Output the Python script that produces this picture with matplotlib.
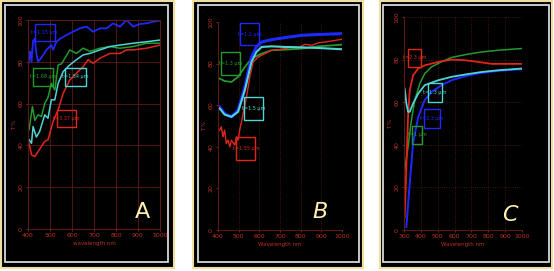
import matplotlib
matplotlib.use('Agg')
import matplotlib.pyplot as plt
from matplotlib.patches import Rectangle

W, H = 554, 271

# ---- panel A data (wavelength nm, T %) ----
a_blue_x = [400, 410, 416, 423, 431, 438, 446, 461, 484, 506, 514, 529, 545, 575, 605, 635, 666, 696, 727, 757, 787, 818, 848, 878, 909, 939, 970, 1000]
a_blue_y = [77.7, 85, 80, 90, 91, 84, 80, 82, 85.7, 88, 85.7, 89.6, 91, 92.8, 94.4, 96, 96.8, 94.4, 96, 96, 98.4, 96.8, 100, 96.8, 98.1, 98.4, 99.2, 99.7]
a_green_x = [405, 420, 431, 446, 461, 476, 491, 506, 522, 537, 552, 575, 590, 620, 651, 681, 727, 772, 818, 878, 939, 1000]
a_green_y = [47.5, 58.6, 52, 54.6, 53.8, 60, 63, 69.7, 66.5, 78.5, 79, 83, 85.7, 84, 86.5, 85, 86.5, 87.3, 86.5, 87.3, 88.9, 88.9]
a_cyan_x = [405, 416, 423, 438, 453, 476, 491, 506, 522, 537, 560, 590, 620, 651, 681, 727, 772, 818, 878, 939, 1000]
a_cyan_y = [42.7, 41, 49, 44, 46.7, 54.6, 53, 61.8, 61.8, 69.7, 75.3, 78.5, 81, 83.3, 84, 85.7, 87.3, 88, 88.9, 89.6, 90.4]
a_red_x = [405, 416, 431, 446, 461, 476, 491, 514, 537, 560, 590, 620, 651, 673, 696, 727, 772, 818, 848, 878, 939, 1000]
a_red_y = [41, 35.5, 34.7, 37, 39.5, 41.9, 42.7, 51.4, 57, 65, 71.3, 74.5, 77.7, 81, 79.3, 81.7, 84, 84, 85.7, 85.7, 86.5, 88]

# ---- panel B data ----
b_blue_x = [408, 432, 465, 497, 530, 562, 586, 611, 659, 724, 805, 886, 1000]
b_blue_y = [59.2, 56, 54.4, 57.6, 68.8, 83.2, 88, 90.4, 91.5, 92.5, 93.6, 94, 94.4]
b_cyan_x = [408, 432, 465, 497, 530, 562, 586, 611, 659, 724, 805, 886, 1000]
b_cyan_y = [58.4, 55.5, 54.4, 56.8, 67.2, 80.8, 85.6, 88, 88.3, 88, 87.8, 87.5, 86.9]
b_green_x = [408, 432, 465, 497, 530, 562, 611, 659, 724, 805, 886, 1000]
b_green_y = [72.8, 71.6, 71.2, 73.6, 78.4, 82.4, 84.8, 86.4, 86.7, 87.2, 88.3, 89.1]
b_red_x = [408, 416, 424, 432, 440, 449, 457, 465, 481, 489, 497, 505, 522, 538, 554, 570, 595, 627, 659, 692, 724, 757, 789, 822, 854, 886, 919, 951, 1000]
b_red_y = [48, 49.6, 44.8, 48, 41.6, 43.2, 40, 43.2, 40.8, 44.8, 43.2, 48, 56, 64, 73.6, 80.8, 83.2, 84.8, 86.4, 86.7, 87.2, 88, 87.7, 89.3, 88.8, 90, 90.4, 90.9, 91.7]

# ---- panel C data ----
c_red_x = [304, 314, 324, 334, 354, 384, 423, 503, 582, 662, 741, 821, 900, 1000]
c_red_y = [6, 29.7, 53, 65.6, 72.6, 75.8, 77.3, 78.9, 80, 79.7, 78.9, 78, 78, 78]
c_green_x = [304, 324, 344, 364, 394, 423, 463, 523, 582, 662, 761, 860, 1000]
c_green_y = [28, 39, 51.6, 61, 68.8, 73.4, 76.6, 79, 81, 82.3, 83.6, 84.4, 85.2]
c_cyan_x = [304, 314, 324, 334, 354, 384, 423, 503, 582, 662, 761, 860, 1000]
c_cyan_y = [66.4, 59.4, 55.5, 55.5, 59.4, 64, 68, 70.3, 71.9, 73, 74.2, 75, 75.8]
c_blue_x = [314, 334, 354, 384, 423, 463, 523, 582, 662, 761, 860, 1000]
c_blue_y = [1.5, 21.9, 40.6, 53, 61, 64.8, 68, 70.3, 72.2, 73.8, 74.7, 75.5]

BLUE = '#1e28ff'
GREEN = '#239a2e'
CYAN = '#50d4d4'
RED = '#e0261c'
TXT = '#b8331f'
GRID = '#5a1c12'


def fr(x0, y0, x1, y1):
    return [x0 / W, 1 - y1 / H, (x1 - x0) / W, (y1 - y0) / H]


def panel_bg(fig, outer, inner):
    x0, y0, x1, y1 = outer
    fig.add_artist(Rectangle((x0 / W, 1 - y1 / H), (x1 - x0) / W, (y1 - y0) / H,
                             transform=fig.transFigure, facecolor='black',
                             edgecolor='#efe0a0', lw=1.5, zorder=-3))
    x0, y0, x1, y1 = inner
    fig.add_artist(Rectangle((x0 / W, 1 - y1 / H), (x1 - x0) / W, (y1 - y0) / H,
                             transform=fig.transFigure, facecolor='none',
                             edgecolor='#d8d8d8', lw=1.3, zorder=-2))


def style_axes(ax, xmin, xlabel, grid_style, grid_axis='both', frame=True):
    ax.set_facecolor('black')
    ax.set_xlim(xmin, 1000)
    ax.set_ylim(0, 100)
    ax.set_xticks(range(xmin, 1001, 100))
    ax.set_yticks(range(0, 101, 20))
    ax.tick_params(colors=TXT, labelsize=4.5, length=1.5, width=0.5, pad=1.5)
    for lab in ax.get_yticklabels():
        lab.set_rotation(90)
        lab.set_va('center')
    for s in ax.spines.values():
        s.set_color(GRID)
        s.set_linewidth(0.8)
    if not frame:
        ax.spines['top'].set_visible(False)
        ax.spines['right'].set_visible(False)
    ax.grid(True, axis=grid_axis, color=GRID, lw=0.6, ls=grid_style)
    ax.set_xlabel(xlabel, color=TXT, fontsize=4, labelpad=2)
    ax.set_ylabel('T %', color=TXT, fontsize=4, labelpad=1)


def box(ax, x0, x1, y0, y1, color, label):
    ax.add_patch(Rectangle((x0, y0), x1 - x0, y1 - y0, fill=False,
                           edgecolor=color, lw=1.0, zorder=5))
    ax.text((x0 + x1) / 2, (y0 + y1) / 2, label, color=color, fontsize=3.5,
            ha='center', va='center', zorder=6)


fig = plt.figure(figsize=(W / 100, H / 100), dpi=100)
fig.patch.set_facecolor('white')

panel_bg(fig, (1, 1, 174, 268), (5, 5, 168, 262))
panel_bg(fig, (193, 1, 363, 268), (198, 5, 359, 262))
panel_bg(fig, (380, 1, 552, 268), (383, 5, 549, 262))

# panel A
ax = fig.add_axes(fr(28, 20, 160, 229))
style_axes(ax, 400, 'wavelength nm', '-')
ax.plot(a_blue_x, a_blue_y, color=BLUE, lw=1.3)
ax.plot(a_green_x, a_green_y, color=GREEN, lw=1.1)
ax.plot(a_cyan_x, a_cyan_y, color=CYAN, lw=1.1)
ax.plot(a_red_x, a_red_y, color=RED, lw=1.1)
box(ax, 430, 521, 90, 98, BLUE, 't=1.15 µm')
box(ax, 423, 514, 68.5, 77, GREEN, 't=1.68 µm')
box(ax, 567, 663, 68.5, 77, CYAN, 't=1.54 µm')
box(ax, 532, 620, 48.6, 57, RED, 't=3.37 µm')
fig.text(142 / W, 1 - 212 / H, 'A', color='#fff2b0', fontsize=16, ha='center', va='center')

# panel B
ax = fig.add_axes(fr(218, 22, 342, 230))
style_axes(ax, 400, 'Wavelength nm', ':', grid_axis='x', frame=False)
ax.plot(b_green_x, b_green_y, color=GREEN, lw=1.3)
ax.plot(b_red_x, b_red_y, color=RED, lw=1.0)
ax.plot(b_blue_x, b_blue_y, color=BLUE, lw=2.2)
ax.plot(b_cyan_x, b_cyan_y, color=CYAN, lw=1.5)
box(ax, 505, 597, 88.8, 99.5, BLUE, 't=1.2 µm')
box(ax, 416, 508, 74.4, 85.6, GREEN, 't=1.3 µm')
box(ax, 526, 619, 52.8, 64, CYAN, 't=1.5 µm')
box(ax, 489, 581, 33.6, 44.8, RED, 't=1.55 µm')
fig.text(320 / W, 1 - 212 / H, 'B', color='#fff2b0', fontsize=16, ha='center',
         va='center', style='italic')

# panel C
ax = fig.add_axes(fr(404, 17, 522, 230))
style_axes(ax, 300, 'Wavelength nm', ':', frame=False)
ax.plot(c_green_x, c_green_y, color=GREEN, lw=1.1)
ax.plot(c_red_x, c_red_y, color=RED, lw=1.3)
ax.plot(c_blue_x, c_blue_y, color=BLUE, lw=1.4)
ax.plot(c_cyan_x, c_cyan_y, color=CYAN, lw=1.3)
box(ax, 324, 399, 76.6, 85, RED, 't=2.3 µm')
box(ax, 443, 527, 60, 68.8, CYAN, 't=1.3 µm')
box(ax, 419, 513, 47.7, 57, BLUE, 't=2.3 µm')
box(ax, 348, 407, 40.6, 49, GREEN, 't=1 µm')
fig.text(510 / W, 1 - 215 / H, 'C', color='#fff2b0', fontsize=16, ha='center',
         va='center', style='italic')

fig.savefig('out.png', dpi=100, facecolor='white')
